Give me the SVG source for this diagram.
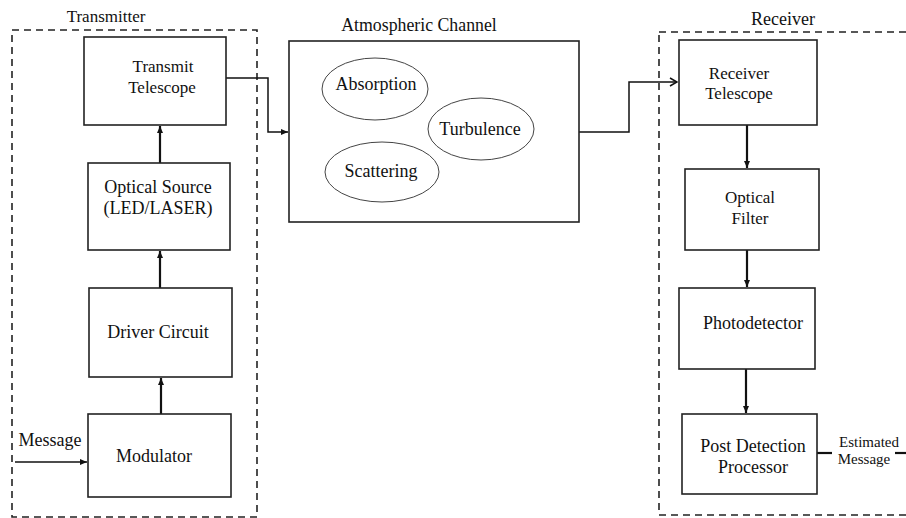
<svg xmlns="http://www.w3.org/2000/svg" width="906" height="518" viewBox="0 0 906 518">
<style>
text{font-family:'Liberation Serif',serif;font-size:17px;fill:#111;text-anchor:middle}
.box{fill:#fff;stroke:#222;stroke-width:1.6}
.dash{fill:none;stroke:#222;stroke-width:1.6;stroke-dasharray:7,5}
.ell{fill:#fff;stroke:#444;stroke-width:1}
.c{fill:none;stroke:#111;stroke-width:1.5}
.ct{fill:none;stroke:#111;stroke-width:2.2}
.sm{font-size:15px}
.lg{font-size:18px}
</style>
<defs>
<marker id="ah" markerWidth="8" markerHeight="8" refX="7" refY="4" orient="auto" markerUnits="userSpaceOnUse">
<path d="M0,1 L7,4 L0,7 Z" fill="#111"/>
</marker>
<marker id="av" markerWidth="10" markerHeight="10" refX="9" refY="5" orient="auto" markerUnits="userSpaceOnUse">
<path d="M2,1 L9,5 L2,9" fill="none" stroke="#111" stroke-width="1.5"/>
</marker>
</defs>
<g id="transmitter">
<rect class="dash" x="12" y="30" width="245" height="487"/>
<text x="106" y="22">Transmitter</text>
</g>
<g id="receiver">
<rect class="dash" x="659" y="32" width="260" height="483"/>
<text class="lg" x="783" y="25">Receiver</text>
</g>
<g id="connectors">
<polyline class="c" points="226,78 268,78 268,132 288,132" marker-end="url(#ah)"/>
<polyline class="c" points="579,132 629,132 629,82 677,82" marker-end="url(#av)"/>
<line class="ct" x1="160" y1="163" x2="160" y2="126" marker-end="url(#ah)"/>
<line class="ct" x1="160" y1="288" x2="160" y2="251" marker-end="url(#ah)"/>
<line class="ct" x1="161" y1="414" x2="161" y2="378" marker-end="url(#ah)"/>
<line class="c" x1="15" y1="462" x2="87" y2="462" stroke-width="1.2" marker-end="url(#ah)"/>
<line class="ct" x1="747" y1="125" x2="747" y2="168" marker-end="url(#ah)"/>
<line class="ct" x1="747" y1="250" x2="747" y2="287" marker-end="url(#ah)"/>
<line class="ct" x1="746" y1="369" x2="746" y2="413" marker-end="url(#ah)"/>
<line class="ct" x1="817" y1="453" x2="832" y2="453"/>
<line class="ct" x1="895" y1="453" x2="906" y2="453"/>
</g>
<g id="transmit-telescope">
<rect class="box" x="84" y="37" width="142" height="88"/>
<text x="163" y="72">Transmit</text>
<text x="162" y="93">Telescope</text>
</g>
<g id="optical-source">
<rect class="box" x="88" y="163" width="142" height="87"/>
<text class="lg" x="158" y="193">Optical Source</text>
<text class="lg" x="158" y="214">(LED/LASER)</text>
</g>
<g id="driver-circuit">
<rect class="box" x="89" y="288" width="143" height="89"/>
<text class="lg" x="158" y="338">Driver Circuit</text>
</g>
<g id="modulator">
<rect class="box" x="88" y="414" width="143" height="83"/>
<text class="lg" x="154" y="462">Modulator</text>
</g>
<text class="lg" x="50" y="446">Message</text>
<g id="atmospheric-channel">
<rect class="box" x="289" y="41" width="290" height="181"/>
<text x="419" y="31" style="font-size:17.8px">Atmospheric Channel</text>
</g>
<g id="absorption">
<ellipse class="ell" cx="375" cy="89" rx="53" ry="31"/>
<text class="lg" x="376" y="90">Absorption</text>
</g>
<g id="turbulence">
<ellipse class="ell" cx="481" cy="129" rx="53" ry="31"/>
<text class="lg" x="480" y="135">Turbulence</text>
</g>
<g id="scattering">
<ellipse class="ell" cx="382" cy="172" rx="57" ry="30"/>
<text class="lg" x="381" y="177">Scattering</text>
</g>
<g id="receiver-telescope">
<rect class="box" x="679" y="40" width="138" height="85"/>
<text x="739" y="79">Receiver</text>
<text x="739" y="99">Telescope</text>
</g>
<g id="optical-filter">
<rect class="box" x="685" y="169" width="134" height="81"/>
<text x="750" y="203">Optical</text>
<text x="750" y="224">Filter</text>
</g>
<g id="photodetector">
<rect class="box" x="679" y="288" width="136" height="81"/>
<text class="lg" x="753" y="329">Photodetector</text>
</g>
<g id="post-detection-processor">
<rect class="box" x="682" y="414" width="135" height="80"/>
<text class="lg" x="753" y="452">Post Detection</text>
<text class="lg" x="753" y="473">Processor</text>
</g>
<text class="sm" x="869" y="447">Estimated</text>
<text class="sm" x="864" y="464">Message</text>
</svg>
